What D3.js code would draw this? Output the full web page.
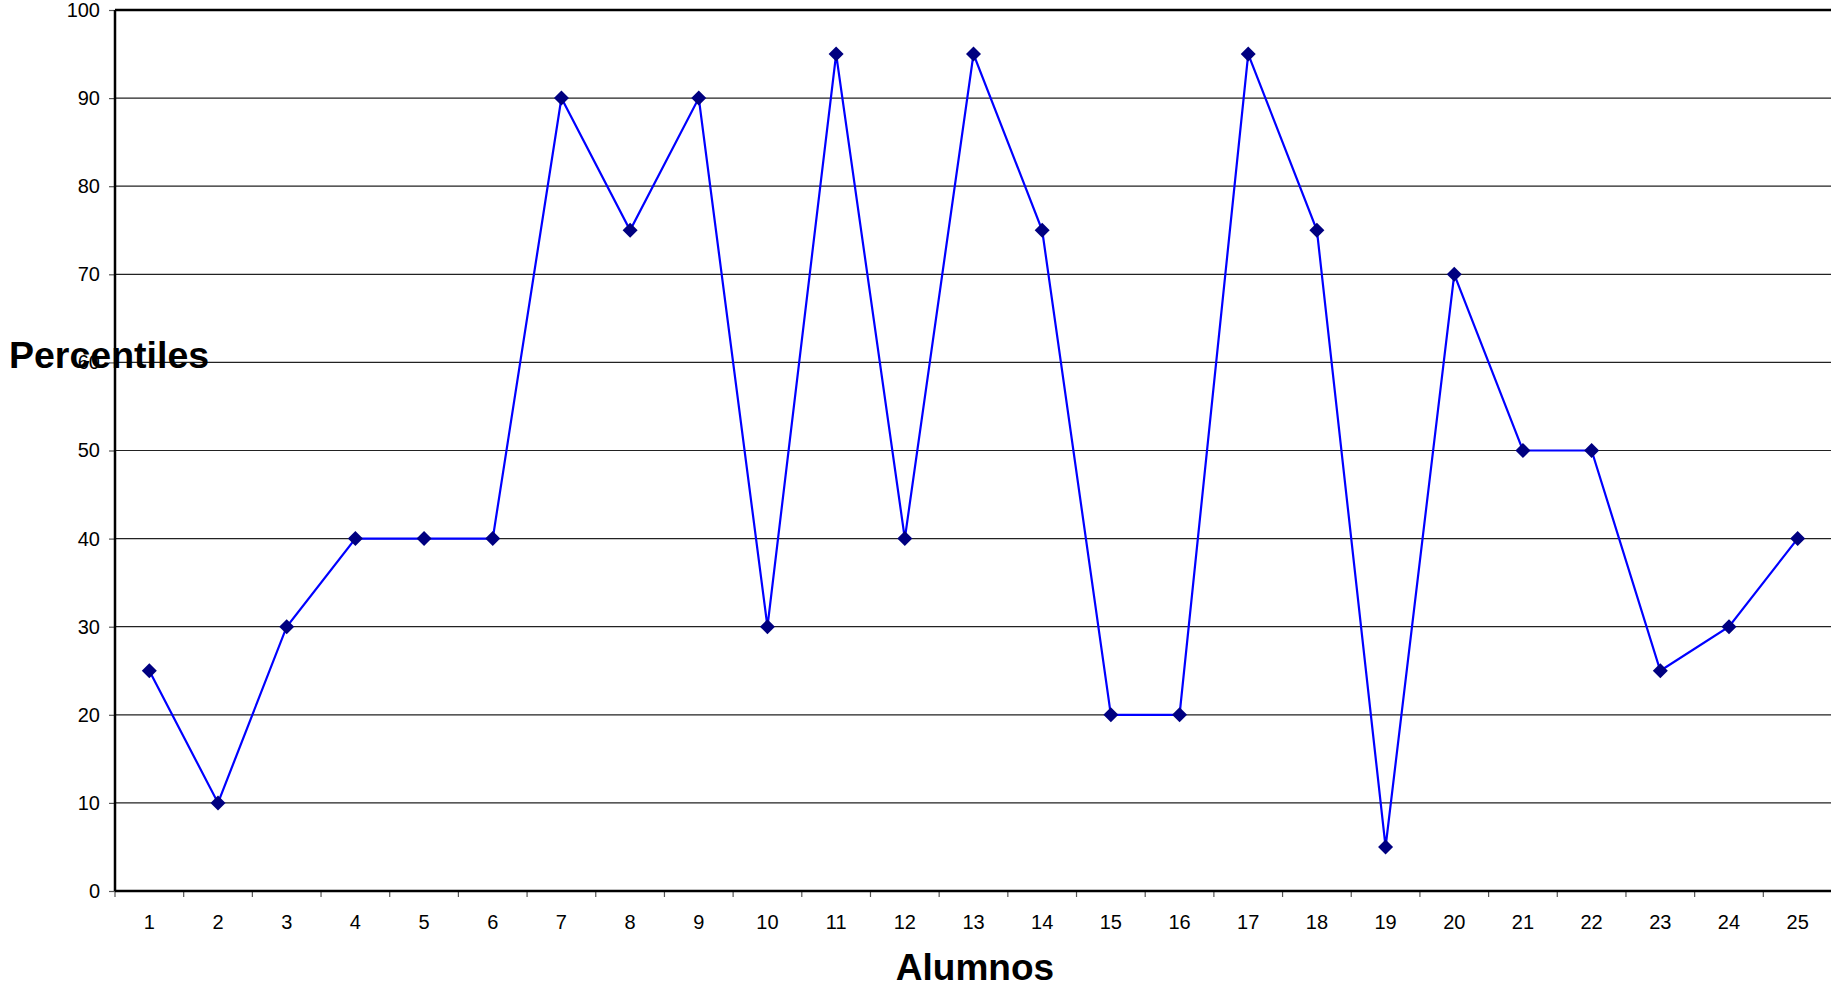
<!DOCTYPE html>
<html>
<head>
<meta charset="utf-8">
<script src="https://cdn.jsdelivr.net/npm/d3@7"></script>
<style>
    html, body { margin: 0; padding: 0; background: #fff; overflow: hidden; }
    text { font-family: Arial, "Liberation Sans", sans-serif; }
</style>
</head>
<body>
<svg id="chart" width="1831" height="990"></svg>
<script>
    // Data
    const alumnos = d3.range(1, 26).map(String);
    const percentiles = [25, 10, 30, 40, 40, 40, 90, 75, 90, 30, 95, 40, 95, 75, 20, 20, 95, 75, 5, 70, 50, 50, 25, 30, 40];
    const yTicks = [0, 10, 20, 30, 40, 50, 60, 70, 80, 90, 100];

    const svg = d3.select('#chart');
    const plotLeft = 115, plotTop = 10, plotBottom = 891, plotRight = 1832;

    const x = d3.scaleBand().domain(alumnos).range([plotLeft, plotRight]);
    const y = d3.scaleLinear().domain([0, 100]).range([plotBottom, plotTop]);

    // Gridlines
    svg.append('g')
        .selectAll('line')
        .data(yTicks.filter(d => d > 0 && d < 100))
        .join('line')
        .attr('x1', plotLeft)
        .attr('x2', plotRight)
        .attr('y1', d => y(d))
        .attr('y2', d => y(d))
        .attr('stroke', '#222')
        .attr('stroke-width', 1.2);

    // Y axis
    const yAxis = svg.append('g')
        .attr('transform', `translate(${plotLeft},0)`)
        .call(d3.axisLeft(y).tickValues(yTicks).tickSize(6).tickPadding(9));
    yAxis.select('.domain').remove();
    yAxis.selectAll('.tick line').attr('stroke', '#555').attr('stroke-width', 1.2);
    yAxis.selectAll('.tick text')
        .attr('fill', '#000')
        .style('font-size', '20px')
        .style('font-family', 'Arial, "Liberation Sans", sans-serif');

    // X axis: ticks at band boundaries
    const xg = svg.append('g').attr('transform', `translate(0,${plotBottom})`);
    xg.selectAll('line')
        .data(alumnos)
        .join('line')
        .attr('x1', d => x(d))
        .attr('x2', d => x(d))
        .attr('y1', 0)
        .attr('y2', 6)
        .attr('stroke', '#555')
        .attr('stroke-width', 1.2);
    xg.selectAll('text')
        .data(alumnos)
        .join('text')
        .attr('x', d => x(d) + x.bandwidth() / 2)
        .attr('y', 37.5)
        .attr('text-anchor', 'middle')
        .style('font-size', '20px')
        .text(d => d);

    // Frame lines
    svg.append('line')
        .attr('x1', plotLeft).attr('x2', plotLeft)
        .attr('y1', plotTop).attr('y2', plotBottom)
        .attr('stroke', '#000').attr('stroke-width', 2.5);
    svg.append('line')
        .attr('x1', plotLeft).attr('x2', plotRight)
        .attr('y1', plotTop).attr('y2', plotTop)
        .attr('stroke', '#000').attr('stroke-width', 2.5);
    svg.append('line')
        .attr('x1', plotLeft).attr('x2', plotRight)
        .attr('y1', plotBottom).attr('y2', plotBottom)
        .attr('stroke', '#000').attr('stroke-width', 2.5);

    // Series line
    const line = d3.line()
        .x((d, i) => x(alumnos[i]) + x.bandwidth() / 2)
        .y(d => y(d));

    svg.append('path')
        .datum(percentiles)
        .attr('d', line)
        .attr('fill', 'none')
        .attr('stroke', '#0000ff')
        .attr('stroke-width', 2.2);

    // Diamond markers
    svg.append('g')
        .selectAll('path')
        .data(percentiles)
        .join('path')
        .attr('transform', (d, i) => `translate(${x(alumnos[i]) + x.bandwidth() / 2},${y(d)})`)
        .attr('d', 'M0,-7.5L7.5,0L0,7.5L-7.5,0Z')
        .attr('fill', '#000080');

    // Axis titles
    svg.append('text')
        .attr('x', 9)
        .attr('y', 368)
        .style('font-size', '37.5px')
        .style('font-weight', 'bold')
        .text('Percentiles');

    svg.append('text')
        .attr('x', 975)
        .attr('y', 980)
        .attr('text-anchor', 'middle')
        .style('font-size', '37px')
        .style('font-weight', 'bold')
        .text('Alumnos');
</script>
</body>
</html>
